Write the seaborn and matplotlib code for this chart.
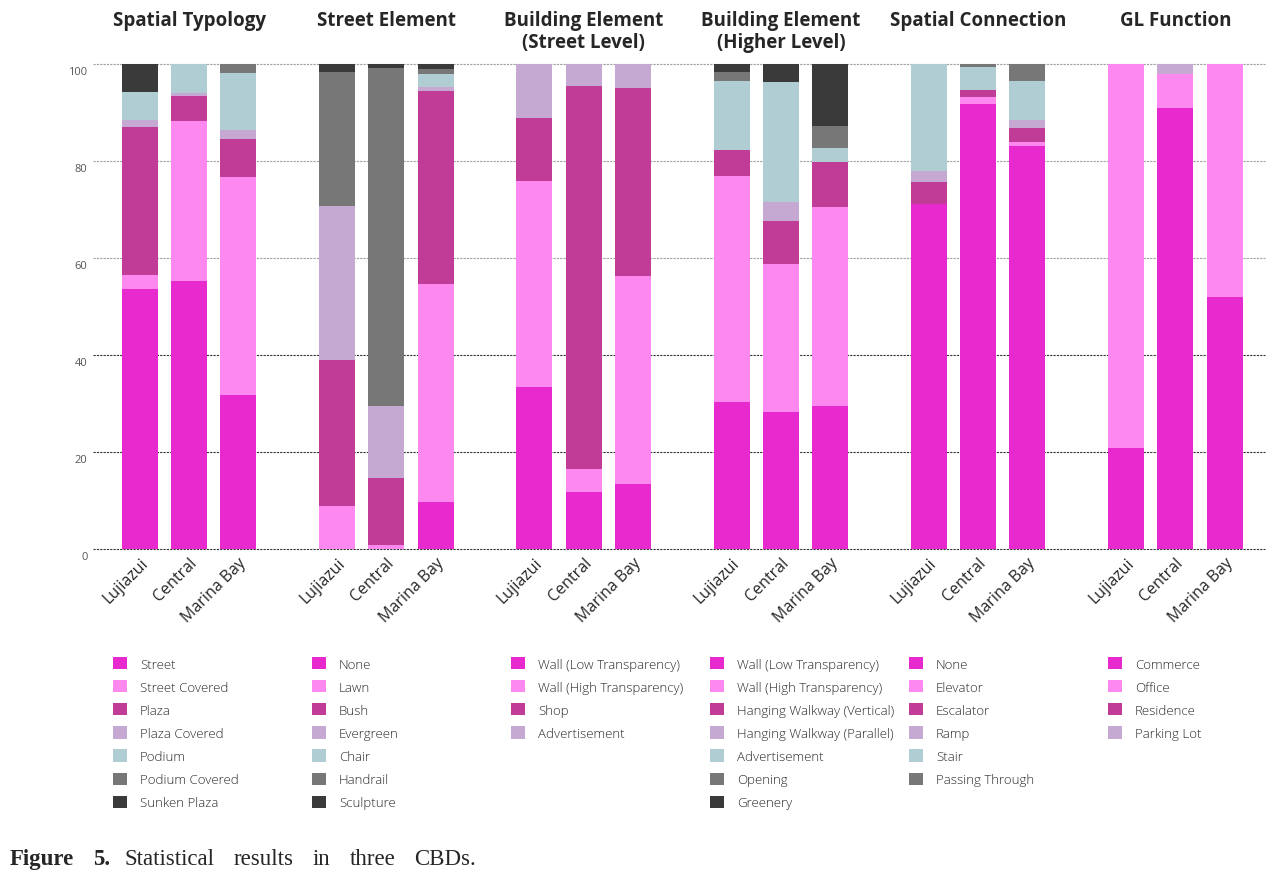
import matplotlib
matplotlib.use("Agg")
import matplotlib.pyplot as plt
import matplotlib.transforms as mtransforms
from matplotlib.patches import Patch
import pandas as pd
import seaborn as sns

cbds = ["Lujiazui", "Central", "Marina Bay"]
titles = ["Spatial Typology", "Street Element", "Building Element\n(Street Level)",
          "Building Element\n(Higher Level)", "Spatial Connection", "GL Function"]

# one list per layer, values for Lujiazui / Central / Marina Bay (percent)
typology_labels = ["Street", "Street Covered", "Plaza", "Plaza Covered", "Podium",
                   "Podium Covered", "Sunken Plaza"]
typology_values = [[53.7, 55.3, 31.7], [2.8, 33.0, 45.0], [30.5, 5.1, 7.9], [1.5, 0.7, 1.7],
                   [5.7, 5.9, 11.9], [0.0, 0.0, 1.8], [5.8, 0.0, 0.0]]

street_labels = ["None", "Lawn", "Bush", "Evergreen", "Chair", "Handrail", "Sculpture"]
street_values = [[0.0, 0.0, 9.6], [8.9, 0.9, 45.0], [30.1, 13.7, 39.8], [31.7, 14.8, 0.9],
                 [0.0, 0.0, 2.7], [27.7, 69.7, 1.0], [1.6, 0.9, 1.0]]

bstreet_labels = ["Wall (Low Transparency)", "Wall (High Transparency)", "Shop", "Advertisement"]
bstreet_values = [[33.3, 11.8, 13.4], [42.6, 4.7, 42.9], [13.0, 79.0, 38.8], [11.1, 4.5, 4.9]]

bhigh_labels = ["Wall (Low Transparency)", "Wall (High Transparency)", "Hanging Walkway (Vertical)",
                "Hanging Walkway (Parallel)", "Advertisement", "Opening", "Greenery"]
bhigh_values = [[30.4, 28.2, 29.5], [46.5, 30.5, 41.0], [5.4, 9.0, 9.3], [0.0, 3.9, 0.0],
                [14.2, 24.6, 2.8], [1.9, 0.0, 4.6], [1.6, 3.8, 12.8]]

connection_labels = ["None", "Elevator", "Escalator", "Ramp", "Stair", "Passing Through"]
connection_values = [[71.1, 91.8, 83.1], [0.0, 1.4, 0.8], [4.6, 1.4, 3.0], [2.2, 0.0, 1.5],
                     [22.1, 4.8, 8.0], [0.0, 0.6, 3.6]]

function_labels = ["Commerce", "Office", "Residence", "Parking Lot"]
function_values = [[20.9, 90.9, 51.9], [79.1, 7.0, 48.1], [0.0, 0.0, 0.0], [0.0, 2.1, 0.0]]

all_labels = [typology_labels, street_labels, bstreet_labels, bhigh_labels,
              connection_labels, function_labels]
all_values = [typology_values, street_values, bstreet_values, bhigh_values,
              connection_values, function_values]

layer_colors = ["#E829CE", "#FD89F0", "#C03C96", "#C5A9D3", "#B1CDD4", "#777777", "#3A3A3A"]

rows = []
for g, values in enumerate(all_values):
    for k, layer in enumerate(values):
        for i, v in enumerate(layer):
            rows.append({"pos": g * 4 + i, "layer": k, "value": v})
df = pd.DataFrame(rows)

sns.set_style("white")
plt.rcParams["font.family"] = ["Open Sans", "DejaVu Sans"]

W, H = 1282, 879
fig = plt.figure(figsize=(W / 100, H / 100), dpi=100)
ax = fig.add_axes([93 / W, 1 - 550 / H, (1265 - 93) / W, (550 - 65) / H])

# stacked bars: first hue level ends on top, so feed the layers reversed
sns.histplot(data=df, x="pos", weights="value", hue="layer",
             hue_order=list(range(6, -1, -1)),
             palette=dict(zip(range(7), layer_colors)),
             multiple="stack", discrete=True, shrink=0.73,
             linewidth=0, alpha=1, legend=False, ax=ax)

ax.set_xlim(-0.95, 22.82)
ax.set_ylim(0, 100)
for y in range(0, 101, 20):
    ax.axhline(y, ls=(0, (2, 1)), lw=0.8, color="#333333" if y <= 40 else "#a0a0a0",
               zorder=0, clip_on=False)
ax.set_axisbelow(True)
for s in ax.spines.values():
    s.set_visible(False)

ax.set_yticks(range(0, 101, 20))
ax.set_yticklabels([str(v) for v in range(0, 101, 20)], fontsize=8, color="#555555")
ax.tick_params(axis="y", length=0, pad=4)
for lab in ax.get_yticklabels():
    lab.set_transform(lab.get_transform() + mtransforms.ScaledTranslation(0, -4 / 72, fig.dpi_scale_trans))

xpos = [g * 4 + i for g in range(6) for i in range(3)]
ax.set_xticks(xpos)
ax.set_xticklabels(cbds * 6, rotation=45, ha="right", rotation_mode="anchor", fontsize=11.5)
ax.tick_params(axis="x", length=0, pad=4)
ax.set_xlabel("")
ax.set_ylabel("")

trans = mtransforms.blended_transform_factory(ax.transData, fig.transFigure)
for g, t in enumerate(titles):
    ax.text(g * 4 + 1, 1 - 11 / H, t, transform=trans, ha="center", va="top",
            fontsize=13.5, fontweight="bold", linespacing=1.15)

legend_x = [113, 312, 511, 710, 909, 1108]
for g, labels in enumerate(all_labels):
    handles = [Patch(facecolor=layer_colors[k], linewidth=0, label=lab) for k, lab in enumerate(labels)]
    fig.legend(handles=handles, loc="upper left", bbox_to_anchor=(legend_x[g] / W, 1 - 658 / H),
               frameon=False, prop={"size": 9.5, "weight": "light"}, labelcolor="#2a2a2a",
               handlelength=1.05, handleheight=1.05, labelspacing=0.72, handletextpad=1.0,
               borderpad=0, borderaxespad=0)

# caption, justified like the journal layout
serif = ["Liberation Serif", "DejaVu Serif"]
cap_y = 1 - 865 / H
fig.text(10 / W, cap_y, "Figure", fontsize=16.5, fontweight="bold", family=serif, va="baseline")
fig.text(93 / W, cap_y, "5.", fontsize=16.5, fontweight="bold", family=serif, va="baseline")
words = ["Statistical", "results", "in", "three", "CBDs."]
renderer = fig.canvas.get_renderer()
texts = [fig.text(0, cap_y, w, fontsize=16.5, family=serif, va="baseline") for w in words]
widths = [t.get_window_extent(renderer).width for t in texts]
gap = (476 - 125 - sum(widths)) / (len(words) - 1)
x = 125
for t, w in zip(texts, widths):
    t.set_x(x / W)
    x += w + gap

fig.savefig("out.png", dpi=100)
